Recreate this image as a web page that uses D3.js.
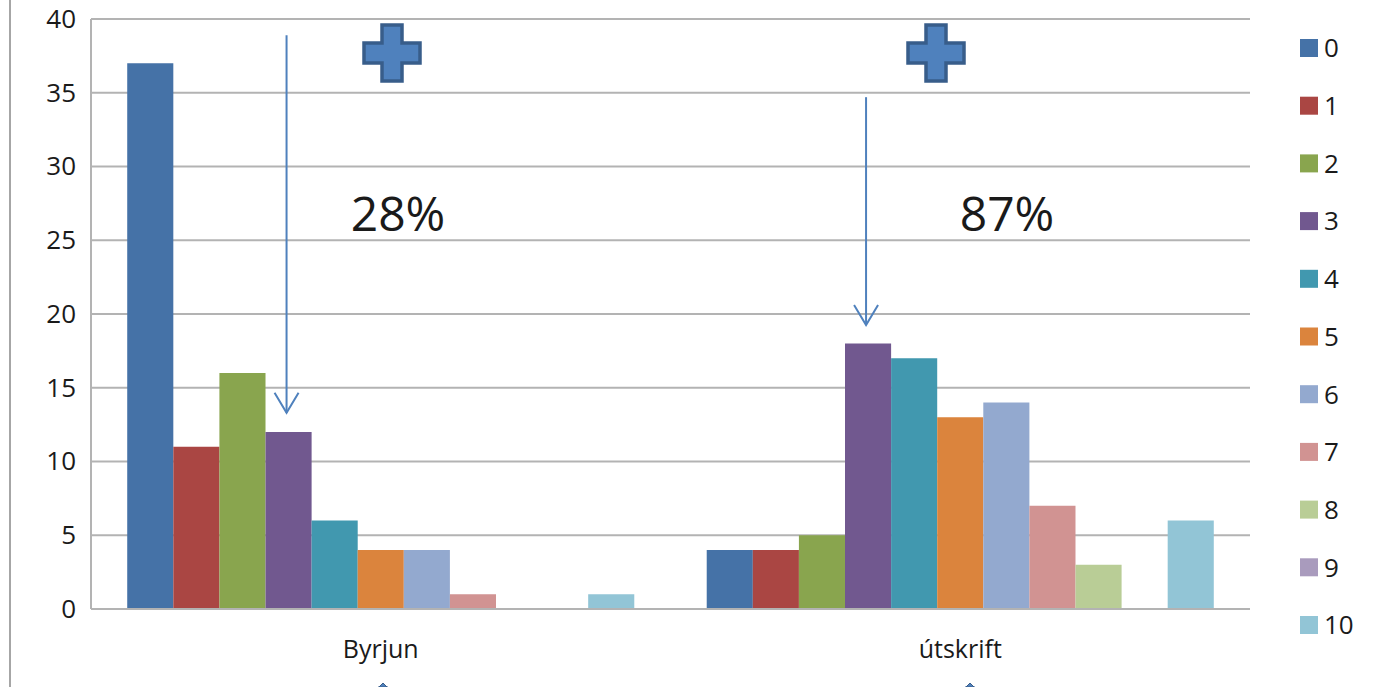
<!DOCTYPE html>
<html>
<head>
<meta charset="utf-8">
<script src="https://cdn.jsdelivr.net/npm/d3@7"></script>
<style>
  html, body { margin: 0; padding: 0; background: #fff; }
  svg { display: block; }
  text { font-family: "Open Sans", "Liberation Sans", sans-serif; fill: #1a1a1a; }
</style>
</head>
<body>
<svg id="chart" width="1379" height="687"></svg>
<script>
// ---- data ----
const categories = ["Byrjun", "útskrift"];
const seriesNames = ["0","1","2","3","4","5","6","7","8","9","10"];
const byrjunValues = [37, 11, 16, 12, 6, 4, 4, 1, 0, 0, 1];
const utskriftValues = [4, 4, 5, 18, 17, 13, 14, 7, 3, 0, 6];
const seriesColors = ["#4572A7","#AA4643","#89A54E","#71588F","#4198AF","#DB843D","#93A9CF","#D19392","#B9CD96","#A99BBD","#92C5D6"];
const yTicks = [0, 5, 10, 15, 20, 25, 30, 35, 40];
const percentLabels = ["28%", "87%"];
// arrow annotations: category, start value, end value (pointing at series "3")
const arrowCats = ["Byrjun", "útskrift"];
const arrowStart = [38.9, 34.7];
const arrowEnd = [13.3, 19.25];

const valuesByCat = { "Byrjun": byrjunValues, "útskrift": utskriftValues };

const svg = d3.select("#chart");
const plot = { left: 91, right: 1250, top: 19, bottom: 609 };

const x0 = d3.scaleBand().domain(categories).range([plot.left, plot.right])
  .paddingInner(0.125).paddingOuter(0.0625);
const x1 = d3.scaleBand().domain(seriesNames).range([0, x0.bandwidth()]).padding(0);
const y = d3.scaleLinear().domain([0, 40]).range([plot.bottom, plot.top]);
const color = d3.scaleOrdinal().domain(seriesNames).range(seriesColors);

// outer chart border (left)
svg.append("line").attr("x1", 10).attr("x2", 10).attr("y1", 0).attr("y2", 687)
  .attr("stroke", "#a6a6a6").attr("stroke-width", 2);

// gridlines
svg.append("g").selectAll("line").data(yTicks).join("line")
  .attr("x1", plot.left).attr("x2", plot.right)
  .attr("y1", d => y(d)).attr("y2", d => y(d))
  .attr("stroke", "#b3b3b3").attr("stroke-width", 2);

// y axis line
svg.append("line").attr("x1", plot.left).attr("x2", plot.left)
  .attr("y1", plot.top).attr("y2", plot.bottom)
  .attr("stroke", "#b3b3b3").attr("stroke-width", 2);

// y axis labels
const yAxis = d3.axisLeft(y).tickValues(yTicks).tickSize(0).tickPadding(15);
const gy = svg.append("g").attr("transform", `translate(${plot.left},0)`).call(yAxis);
gy.select(".domain").remove();
gy.selectAll("text").style("font-size", "26px").attr("fill", "#1a1a1a")
  .style("font-family", "'Open Sans', sans-serif");

// bars
const groups = svg.append("g").selectAll("g").data(categories).join("g")
  .attr("transform", d => `translate(${x0(d)},0)`);
groups.selectAll("rect").data(c => valuesByCat[c].map((v, i) => ({ key: seriesNames[i], v })))
  .join("rect")
  .attr("x", d => x1(d.key))
  .attr("width", x1.bandwidth())
  .attr("y", d => y(d.v))
  .attr("height", d => y(0) - y(d.v))
  .attr("fill", d => color(d.key));

// x axis line
svg.append("line").attr("x1", plot.left).attr("x2", plot.right)
  .attr("y1", y(0)).attr("y2", y(0)).attr("stroke", "#b3b3b3").attr("stroke-width", 2);

// x axis labels
const xAxis = d3.axisBottom(x0).tickSize(0).tickPadding(31);
const gx = svg.append("g").attr("transform", `translate(0,${plot.bottom})`).call(xAxis);
gx.select(".domain").remove();
gx.selectAll("text").style("font-size", "25px").attr("fill", "#1a1a1a")
  .style("font-family", "'Open Sans', sans-serif");

// legend
const legend = svg.append("g").selectAll("g").data(seriesNames).join("g")
  .attr("transform", (d, i) => `translate(1300,${48 + i * 57.7})`);
legend.append("rect").attr("x", 0).attr("y", -9).attr("width", 18).attr("height", 18)
  .attr("fill", d => color(d));
legend.append("text").attr("x", 24).attr("y", 0).attr("dy", "0.36em")
  .style("font-size", "26px").text(d => d);

// arrows
const arrowColor = "#4F81BD";
arrowCats.forEach((c, i) => {
  const ax = x0(c) + x1("3") + x1.bandwidth() / 2 - 2;
  const ys = y(arrowStart[i]), ye = y(arrowEnd[i]);
  svg.append("line").attr("x1", ax).attr("x2", ax).attr("y1", ys).attr("y2", ye)
    .attr("stroke", arrowColor).attr("stroke-width", 2);
  svg.append("path").attr("d", `M${ax - 12},${ye - 20} L${ax},${ye} L${ax + 12},${ye - 20}`)
    .attr("fill", "none").attr("stroke", arrowColor).attr("stroke-width", 2);
});

// percent labels
const pctX = [398, 1007];
percentLabels.forEach((t, i) => {
  svg.append("text").attr("x", pctX[i]).attr("y", 231).attr("text-anchor", "middle")
    .style("font-size", "48px").style("font-family", "'Open Sans', sans-serif")
    .attr("fill", "#000").text(t);
});

// plus icons
function plus(cx, cy, size, arm) {
  const h = size / 2, a = arm / 2;
  return `M${cx - a},${cy - h} H${cx + a} V${cy - a} H${cx + h} V${cy + a} H${cx + a} V${cy + h} H${cx - a} V${cy + a} H${cx - h} V${cy - a} H${cx - a} Z`;
}
const plusCenters = [[392, 53], [936, 53]];
plusCenters.forEach(([cx, cy]) => {
  svg.append("path").attr("d", plus(cx, cy, 56, 20))
    .attr("fill", "#4F81BD").attr("stroke", "#385D8A").attr("stroke-width", 3.5)
    .attr("stroke-linejoin", "miter");
});
// tips of icons cut off at the bottom edge
[[383, 683], [970, 683]].forEach(([cx, ty]) => {
  svg.append("path").attr("d", `M${cx - 5},${ty + 5} L${cx},${ty} L${cx + 5},${ty + 5} V687 H${cx - 5} Z`)
    .attr("fill", "#4F81BD").attr("stroke", "#385D8A").attr("stroke-width", 1);
});
</script>
</body>
</html>
